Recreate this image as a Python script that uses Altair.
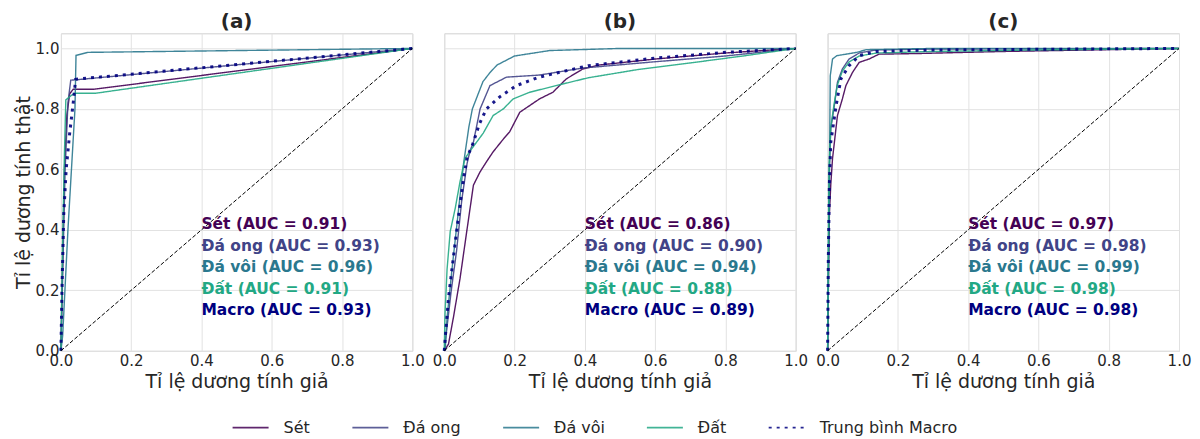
import altair as alt
import pandas as pd

SERIES = ["Sét", "Đá ong", "Đá vôi", "Đất", "Trung bình Macro"]
TEXT_NAMES = ["Sét", "Đá ong", "Đá vôi", "Đất", "Macro"]
COLORS = ["#440154", "#414487", "#2a788e", "#22a884", "#000080"]
PANELS = ["(a)", "(b)", "(c)"]
AUC_A = [0.91, 0.93, 0.96, 0.91, 0.93]
AUC_B = [0.86, 0.90, 0.94, 0.88, 0.89]
AUC_C = [0.97, 0.98, 0.99, 0.98, 0.98]
TEXT_Y = [0.418, 0.347, 0.276, 0.205, 0.134]
TEXT_X = 0.40
TICKS = [0.0, 0.2, 0.4, 0.6, 0.8, 1.0]
DIAG = [0.0, 1.0]

# ---- panel (a)
A_SET_FPR = [0, 0.005, 0.01, 0.017, 0.025, 0.035, 0.094, 1]
A_SET_TPR = [0, 0.30, 0.60, 0.78, 0.85, 0.865, 0.865, 1]
A_ONG_FPR = [0, 0.005, 0.012, 0.02, 0.028, 0.05, 1]
A_ONG_TPR = [0, 0.25, 0.60, 0.82, 0.895, 0.897, 1]
A_VOI_FPR = [0, 0.005, 0.02, 0.04, 0.043, 0.076, 1]
A_VOI_TPR = [0, 0.05, 0.40, 0.80, 0.977, 0.987, 1]
A_DAT_FPR = [0, 0.004, 0.01, 0.014, 0.03, 0.04, 0.10, 1]
A_DAT_TPR = [0, 0.30, 0.65, 0.83, 0.845, 0.852, 0.852, 1]
A_MAC_FPR = [0, 0.003, 0.008, 0.015, 0.025, 0.035, 0.042, 0.06, 1]
A_MAC_TPR = [0, 0.20, 0.45, 0.60, 0.72, 0.82, 0.898, 0.90, 1]

# ---- panel (b)
B_SET_FPR = [0, 0.012, 0.026, 0.045, 0.064, 0.083, 0.102, 0.12, 0.139, 0.168, 0.186, 0.215, 0.271, 0.309, 0.347, 0.394, 0.44, 0.6, 0.8, 1]
B_SET_TPR = [0, 0.022, 0.11, 0.24, 0.395, 0.548, 0.592, 0.625, 0.658, 0.70, 0.724, 0.789, 0.833, 0.855, 0.899, 0.932, 0.945, 0.965, 0.985, 1]
B_ONG_FPR = [0, 0.01, 0.02, 0.035, 0.05, 0.065, 0.073, 0.083, 0.102, 0.13, 0.177, 0.271, 0.393, 0.6, 0.8, 1]
B_ONG_TPR = [0, 0.10, 0.20, 0.33, 0.50, 0.62, 0.66, 0.69, 0.80, 0.877, 0.905, 0.912, 0.935, 0.956, 0.975, 1]
B_VOI_FPR = [0, 0.003, 0.008, 0.022, 0.04, 0.055, 0.07, 0.08, 0.09, 0.11, 0.13, 0.15, 0.2, 0.3, 0.5, 1]
B_VOI_TPR = [0, 0.01, 0.11, 0.27, 0.46, 0.62, 0.74, 0.80, 0.83, 0.89, 0.92, 0.945, 0.975, 0.993, 1.0, 1]
B_DAT_FPR = [0, 0.002, 0.008, 0.017, 0.031, 0.045, 0.059, 0.073, 0.092, 0.111, 0.139, 0.168, 0.196, 0.243, 0.318, 0.41, 0.55, 0.7, 0.85, 1]
B_DAT_TPR = [0, 0.12, 0.27, 0.395, 0.47, 0.56, 0.636, 0.66, 0.69, 0.72, 0.778, 0.80, 0.833, 0.855, 0.877, 0.903, 0.93, 0.952, 0.975, 1]
B_MAC_FPR = [0, 0.003, 0.012, 0.026, 0.04, 0.055, 0.065, 0.08, 0.1, 0.12, 0.158, 0.205, 0.27, 0.35, 0.41, 0.6, 0.8, 1]
B_MAC_TPR = [0, 0.045, 0.175, 0.31, 0.44, 0.57, 0.64, 0.68, 0.75, 0.80, 0.84, 0.877, 0.905, 0.927, 0.943, 0.968, 0.987, 1]

# ---- panel (c)
C_SET_FPR = [0, 0.002, 0.005, 0.009, 0.014, 0.028, 0.042, 0.052, 0.071, 0.09, 0.118, 0.146, 0.25, 0.5, 1]
C_SET_TPR = [0, 0.20, 0.45, 0.55, 0.636, 0.778, 0.833, 0.877, 0.921, 0.954, 0.965, 0.981, 0.983, 0.99, 1]
C_ONG_FPR = [0, 0.002, 0.005, 0.009, 0.019, 0.028, 0.042, 0.061, 0.09, 0.137, 0.3, 1]
C_ONG_TPR = [0, 0.30, 0.60, 0.735, 0.81, 0.888, 0.932, 0.965, 0.985, 0.995, 0.998, 1]
C_VOI_FPR = [0, 0.003, 0.006, 0.0075, 0.014, 0.026, 0.083, 0.11, 0.3, 1]
C_VOI_TPR = [0, 0.30, 0.70, 0.91, 0.965, 0.976, 0.987, 0.996, 1.0, 1]
C_DAT_FPR = [0, 0.001, 0.004, 0.009, 0.019, 0.028, 0.042, 0.061, 0.09, 0.14, 0.3, 0.6, 1]
C_DAT_TPR = [0, 0.20, 0.60, 0.74, 0.82, 0.88, 0.925, 0.955, 0.975, 0.985, 0.99, 0.995, 1]
C_MAC_FPR = [0, 0.002, 0.005, 0.009, 0.024, 0.038, 0.061, 0.09, 0.137, 0.3, 1]
C_MAC_TPR = [0, 0.30, 0.55, 0.69, 0.81, 0.90, 0.943, 0.976, 0.99, 0.995, 1]

CURVES = {
    "(a)": [(A_SET_FPR, A_SET_TPR), (A_ONG_FPR, A_ONG_TPR), (A_VOI_FPR, A_VOI_TPR), (A_DAT_FPR, A_DAT_TPR), (A_MAC_FPR, A_MAC_TPR)],
    "(b)": [(B_SET_FPR, B_SET_TPR), (B_ONG_FPR, B_ONG_TPR), (B_VOI_FPR, B_VOI_TPR), (B_DAT_FPR, B_DAT_TPR), (B_MAC_FPR, B_MAC_TPR)],
    "(c)": [(C_SET_FPR, C_SET_TPR), (C_ONG_FPR, C_ONG_TPR), (C_VOI_FPR, C_VOI_TPR), (C_DAT_FPR, C_DAT_TPR), (C_MAC_FPR, C_MAC_TPR)],
}
AUCS = {"(a)": AUC_A, "(b)": AUC_B, "(c)": AUC_C}

FONT = "DejaVu Sans"
TXT = "#262626"
MACRO = SERIES[-1]

legend = alt.Legend(title=None, orient="none", legendX=171, legendY=376, direction="horizontal",
                    symbolType="stroke", symbolSize=1300, symbolStrokeWidth=1.6, labelFontSize=16,
                    labelFont=FONT, labelColor=TXT, columnPadding=38, labelOffset=14, symbolOpacity=0.85)


def make_panel(pname, first):
    rows = []
    for s, (fx, fy) in zip(SERIES, CURVES[pname]):
        for i, (a, b) in enumerate(zip(fx, fy)):
            rows.append({"series": s, "i": i, "fpr": a, "tpr": b})
    d = pd.DataFrame(rows)
    xs = alt.Scale(domain=[0, 1], nice=False, zero=False)
    ys = alt.Scale(domain=[0, 1.05], nice=False, zero=False)
    xax = alt.Axis(values=TICKS, format=".1f", title="Tỉ lệ dương tính giả", labelFlush=False)
    if first:
        yax = alt.Axis(values=TICKS, format=".1f", title="Tỉ lệ dương tính thật", labelFlush=False,
                       labelPadding=2, titlePadding=2)
    else:
        yax = alt.Axis(values=TICKS, labels=False, title=None)

    lines = alt.Chart(d).mark_line(opacity=0.9).encode(
        x=alt.X("fpr:Q", scale=xs, axis=xax),
        y=alt.Y("tpr:Q", scale=ys, axis=yax),
        color=alt.Color("series:N", scale=alt.Scale(domain=SERIES, range=COLORS), legend=legend, sort=SERIES),
        strokeDash=alt.StrokeDash("series:N", scale=alt.Scale(domain=SERIES, range=[[1, 0], [1, 0], [1, 0], [1, 0], [3, 5]]), legend=legend, sort=SERIES),
        strokeWidth=alt.condition(alt.datum.series == MACRO, alt.value(3), alt.value(1.4)),
        order="i:Q",
    )
    diag = alt.Chart(pd.DataFrame({"fpr": DIAG, "tpr": DIAG})).mark_line(
        color="black", strokeDash=[4, 2], strokeWidth=1
    ).encode(x=alt.X("fpr:Q", scale=xs), y=alt.Y("tpr:Q", scale=ys))

    tdf = pd.DataFrame({
        "label": [f"{n} (AUC = {a:.2f})" for n, a in zip(TEXT_NAMES, AUCS[pname])],
        "x": [TEXT_X] * 5,
        "y": TEXT_Y,
        "tcolor": COLORS,
    })
    texts = alt.Chart(tdf).mark_text(align="left", baseline="middle", fontSize=15.5, fontWeight="bold", font=FONT).encode(
        x=alt.X("x:Q", scale=xs), y=alt.Y("y:Q", scale=ys), text="label:N",
        color=alt.Color("tcolor:N", scale=None),
    )
    return alt.layer(lines, diag, texts).properties(
        width=352, height=318,
        title=alt.TitleParams(pname, fontSize=20, fontWeight="bold", font=FONT, color=TXT, offset=1),
    )


chart = alt.hconcat(
    make_panel("(a)", True), make_panel("(b)", False), make_panel("(c)", False),
    spacing=32, bounds="flush", background="white",
    padding={"left": 5, "top": 3, "right": 0, "bottom": 0},
).configure_view(stroke="#d0d0d0", strokeWidth=1).configure_axis(
    grid=True, gridColor="#e2e2e2", gridWidth=1, domain=False, ticks=False,
    labelFont=FONT, labelFontSize=15, labelColor=TXT, labelPadding=3,
    titleFont=FONT, titleFontSize=19, titleFontWeight="normal", titleColor=TXT, titlePadding=4,
)

chart.save("out.html", embed_options={"renderer": "svg", "actions": False})
